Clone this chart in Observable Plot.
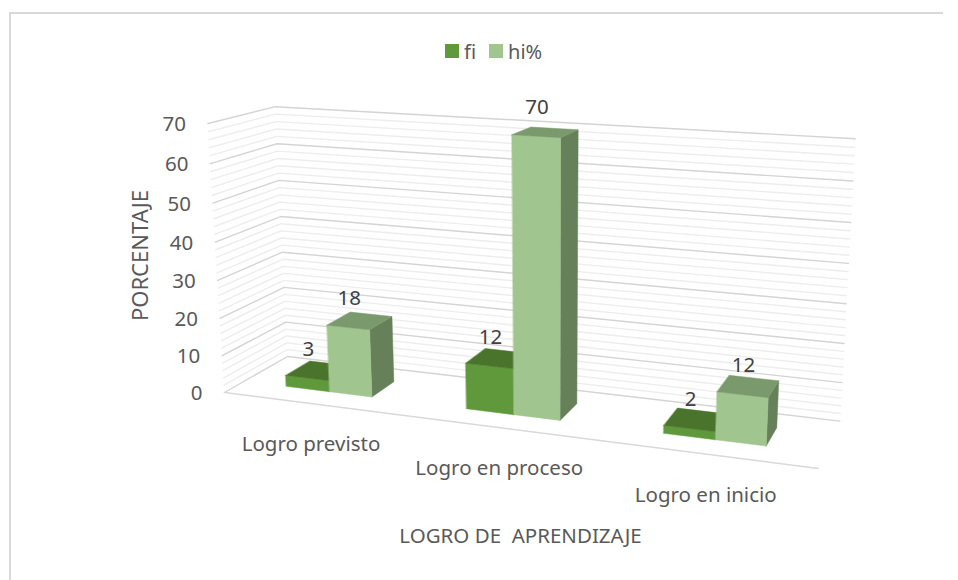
<!DOCTYPE html>
<html><head><meta charset="utf-8">
<script src="https://cdn.jsdelivr.net/npm/d3@7"></script>
<script src="https://cdn.jsdelivr.net/npm/@observablehq/plot@0.6"></script>
<style>
html,body{margin:0;padding:0;background:#fff}
#wrap{position:relative;width:958px;height:580px;overflow:hidden}
#frame{position:absolute;left:9px;top:12px;width:932px;height:566px;border-left:2px solid #D9D9D9;border-top:2px solid #D9D9D9;pointer-events:none}
#legend{position:absolute;left:445px;top:38px;height:26px;display:flex;align-items:center;font:20px "Noto Sans",sans-serif;color:#595959;font-variant-ligatures:none}
#legend i{display:inline-block;width:14px;height:14px;margin-right:5px}
#legend span{margin-right:13px}
svg text{white-space:pre;font-variant-ligatures:none}
</style></head><body>
<div id="wrap"><div id="chart"></div><div id="frame"></div>
<div id="legend"><i style="background:#5F993B"></i><span>fi</span><i style="background:#A1C58E"></i><span>hi%</span></div></div>
<script>
const categories = ["Logro previsto","Logro en proceso","Logro en inicio"];
const fi = [3,12,2];
const hi = [18,70,12];
const majorTicks = [0,10,20,30,40,50,60,70];
const minorTicks = [2,4,6,8,12,14,16,18,22,24,26,28,32,34,36,38,42,44,46,48,52,54,56,58,62,64,66,68];
const seriesColors = {
  fi: {front:"#5F993B", top:"#4A742C", side:"#47702B"},
  hi: {front:"#A1C58E", top:"#7A9A6D", side:"#66805A"}
};

// Perspective camera: u along categories, d into depth, t up the value axis.
const vMax = 70;
const O=[224,392], U=[817.7,468], D=[287,356], T=[207.5,123];
const pa=-0.13, pb=0.08, pc=-0.048;
const Ax=[U[0]*(1+pa)-O[0],U[1]*(1+pa)-O[1]];
const Bx=[D[0]*(1+pb)-O[0],D[1]*(1+pb)-O[1]];
const Cx=[T[0]*(1+pc)-O[0],T[1]*(1+pc)-O[1]];
function proj(u,d,v){
  const t=v/vMax, w=1+pa*u+pb*d+pc*t;
  return [(O[0]+Ax[0]*u+Bx[0]*d+Cx[0]*t)/w,(O[1]+Ax[1]*u+Bx[1]*d+Cx[1]*t)/w];
}

const gridRows=[];
function addGrid(v,kind){
  [[0,0],[0,1],[1,1]].forEach(([u,d])=>{
    const [x,y]=proj(u,d,v); gridRows.push({x,y,id:kind+v});
  });
}
minorTicks.forEach(v=>addGrid(v,"m"));
majorTicks.forEach(v=>addGrid(v,"M"));
const minorRows=gridRows.filter(r=>r.id[0]==="m"), majorRows=gridRows.filter(r=>r.id[0]==="M");
const floorRows=[[0,0],[1,0]].map(([u,d])=>{const [x,y]=proj(u,d,0);return {x,y};});

// Bars
const catW=1/categories.length, barLead=0.085, barWFi=0.083, barWHi=0.079;
const d0=0.30, d1=0.70;
const faces=[]; const labels=[];
function quad(id,color,pts){pts.forEach(([u,d,v])=>{const [x,y]=proj(u,d,v);faces.push({x,y,id,color});});}
function addBar(c,s,v){
  const start=(c+0.5)*catW-barLead;
  const a=s==="fi"?start:start+barWFi, b=s==="fi"?a+barWFi:a+barWHi, col=seriesColors[s], id=s+c;
  quad(id+"side",col.side,[[b,d0,0],[b,d1,0],[b,d1,v],[b,d0,v]]);
  quad(id+"front",col.front,[[a,d0,0],[b,d0,0],[b,d0,v],[a,d0,v]]);
  quad(id+"top",col.top,[[a,d0,v],[b,d0,v],[b,d1,v],[a,d1,v]]);
  const [x,y]=proj((a+b)/2,d0,v);
  labels.push({x,y,text:String(v)});
}
categories.forEach((_,c)=>{addBar(c,"fi",fi[c]);addBar(c,"hi",hi[c]);});

const tickText=majorTicks.map(v=>{const [x,y]=proj(0,0,v);return {x,y,text:String(v)};});
const catText=categories.map((text,c)=>{const [x,y]=proj((c+0.5)*catW,0,0);return {x,y,text};});

const font="'Noto Sans', sans-serif", fs=20.5;
const chart=Plot.plot({
  width:958,height:580,margin:0,
  style:{background:"transparent",fontFamily:font},
  x:{domain:[0,958],range:[0,958],axis:null},
  y:{domain:[0,580],range:[0,580],axis:null},
  color:{type:"identity"},
  marks:[
    Plot.line(minorRows,{x:"x",y:"y",z:"id",stroke:"#EDEDED",strokeWidth:1.4}),
    Plot.line(majorRows,{x:"x",y:"y",z:"id",stroke:"#D4D4D4",strokeWidth:1.4}),
    Plot.line(floorRows,{x:"x",y:"y",stroke:"#D9D9D9",strokeWidth:1.6}),
    Plot.line(faces,{x:"x",y:"y",z:"id",fill:"color",stroke:"color",strokeWidth:0.5,curve:"linear-closed"}),
    Plot.text(tickText,{x:"x",y:"y",text:"text",dx:-22,dy:1,textAnchor:"end",fontSize:fs,fill:"#595959"}),
    Plot.text(catText,{x:"x",y:"y",text:"text",dx:-1.5,dy:41,fontSize:fs,fill:"#595959"}),
    Plot.text(labels,{x:"x",y:"y",text:"text",dx:1,dy:-29,fontSize:fs,fill:"#404040"}),
    Plot.text([{x:140,y:255,t:"PORCENTAJE"}],{x:"x",y:"y",text:"t",rotate:-90,fontSize:22,fill:"#595959"}),
    Plot.text([{x:520,y:536,t:"LOGRO DE  APRENDIZAJE"}],{x:"x",y:"y",text:"t",fontSize:fs,fill:"#595959"})
  ]
});
document.getElementById("chart").append(chart);
</script></body></html>
